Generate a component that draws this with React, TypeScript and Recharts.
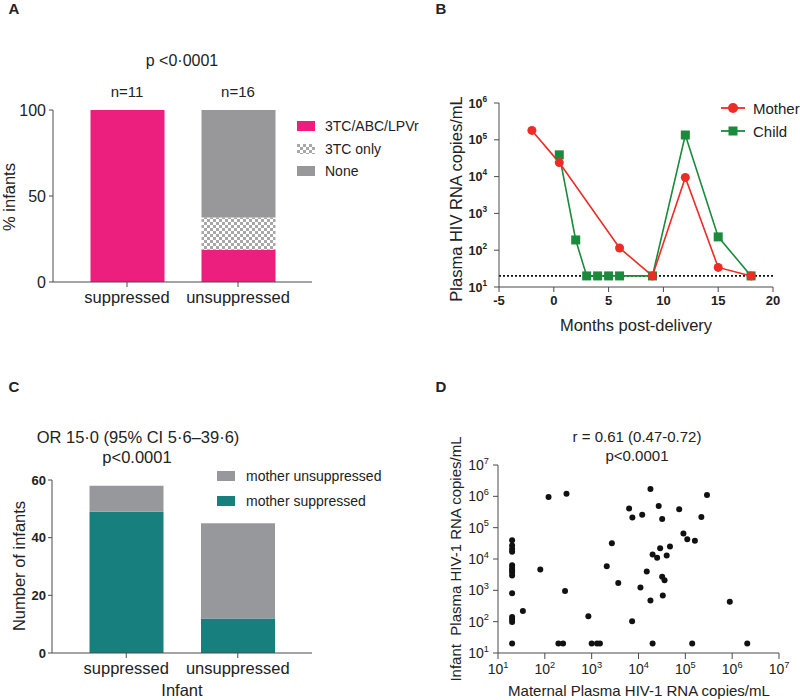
import React from "react";
import {
  BarChart,
  Bar,
  XAxis,
  YAxis,
  LineChart,
  Line,
  ScatterChart,
  Scatter,
  ReferenceLine,
} from "recharts";

const FONT = "'Liberation Sans', Arial, Helvetica, sans-serif";
const INK = "#222";
const AXIS = "#4a4a4a";

// ---- panel A: infant regimen by maternal status (% infants)
const groupsA = ["suppressed", "unsuppressed"];
const fullRegimen = [100, 18.75];
const only3tc = [0, 18.75];
const noRegimen = [0, 62.5];

// ---- panel B: one mother-child pair over time
const motherMonths = [-2, 0.5, 6, 9, 12, 15, 18];
const motherVL = [180000, 24000, 115, 20, 9500, 34, 20];
const childMonths = [0.5, 2, 3, 4, 5, 6, 9, 12, 15, 18];
const childVL = [39000, 190, 20, 20, 20, 20, 20, 135000, 230, 20];
const monthTicks = [-5, 0, 5, 10, 15, 20];
const logTicksB = [10, 100, 1000, 10000, 100000, 1000000];

// ---- panel C: infant status by maternal status (counts)
const infantGroups = ["suppressed", "unsuppressed"];
const motherSuppressed = [49, 12];
const motherUnsuppressed = [9, 33];

// ---- panel D: maternal vs infant viral load
const maternalVL = [
  20, 20, 20, 20, 20, 20, 20, 20, 20, 20, 20, 20, 20, 20,
  80, 34, 120, 290, 270, 195, 245, 850, 1000, 1300, 1500, 2100, 2700, 3700,
  6300, 7400, 7300, 12000, 11000, 15000, 18000, 18000, 20000, 20000, 25000,
  27000, 29000, 32000, 32000, 36000, 33000, 40000, 47000, 74000, 91000,
  110000, 160000, 140000, 220000, 290000, 890000, 2100000,
];
const infantVL = [
  40000, 27000, 21000, 17000, 6300, 5200, 4400, 3700, 3000, 800, 140, 117, 98, 20,
  4600, 220, 960000, 1200000, 950, 20, 20, 150, 20, 20, 20, 5900, 32000, 1700,
  410000, 210000, 103, 260000, 1230, 4000, 1700000, 470, 14000, 20, 11000,
  490000, 22000, 190000, 2700, 2100, 680, 13000, 25000, 390000, 65000,
  43000, 38000, 20, 220000, 1100000, 430, 20,
];
const logTicksD = [10, 100, 1000, 10000, 100000, 1000000, 10000000];

const PINK = "#EC1F7F";
const GREY_A = "#98989a";
const TEAL = "#17807e";
const GREY_C = "#96989c";
const RED = "#ee2b24";
const GREEN = "#1b8a3c";

const dataA = groupsA.map((g, i) => ({
  group: g,
  full: fullRegimen[i],
  only: only3tc[i],
  none: noRegimen[i],
}));
const dataC = infantGroups.map((g, i) => ({
  group: g,
  sup: motherSuppressed[i],
  unsup: motherUnsuppressed[i],
}));
const motherData = motherMonths.map((m, i) => ({ m, v: motherVL[i] }));
const childData = childMonths.map((m, i) => ({ m, v: childVL[i] }));
const scatterData = maternalVL.map((x, i) => ({ x, y: infantVL[i] }));

function Txt({ x, y, size = 16, bold = false, rot = false, left = false, children }: any) {
  return (
    <div
      style={{
        position: "absolute",
        left: x,
        top: y,
        transform: `translate(${left ? "0" : "-50%"}, -50%)${rot ? " rotate(-90deg)" : ""}`,
        fontFamily: FONT,
        fontSize: size,
        fontWeight: bold ? 700 : 400,
        color: INK,
        whiteSpace: "pre",
        lineHeight: 1,
      }}
    >
      {children}
    </div>
  );
}

function PowTick(props: any) {
  const { x, y, payload, vertical, size, bold } = props;
  const exp = Math.round(Math.log10(payload.value));
  const ty = vertical ? y + size * 0.36 : y + size * 0.85;
  return (
    <text
      x={x}
      y={ty}
      textAnchor={vertical ? "end" : "middle"}
      fill={INK}
      fontFamily={FONT}
      fontSize={size}
      fontWeight={bold ? 700 : 400}
    >
      <tspan>10</tspan>
      <tspan dy={-size * 0.45} fontSize={size * 0.66}>
        {exp}
      </tspan>
    </text>
  );
}

function Swatch({ x, y, fill, checker = false }: any) {
  return (
    <svg style={{ position: "absolute", left: x, top: y - 5 }} width={18} height={10}>
      <defs>
        <pattern id="chkLegend" width="6" height="6" patternUnits="userSpaceOnUse">
          <rect width="6" height="6" fill="#fff" />
          <rect width="3" height="3" fill="#a8a8a8" />
          <rect x="3" y="3" width="3" height="3" fill="#a8a8a8" />
        </pattern>
      </defs>
      <rect width={18} height={10} fill={checker ? "url(#chkLegend)" : fill} />
    </svg>
  );
}

const catTick = { fill: INK, fontSize: 16.5, fontFamily: FONT };
const boldTick = { fill: INK, fontSize: 13, fontFamily: FONT, fontWeight: 700 };

export default function App() {
  return (
    <div
      style={{
        position: "absolute",
        left: 0,
        top: 0,
        width: 800,
        height: 700,
        background: "#fff",
        overflow: "hidden",
      }}
    >
      {/* PANEL A */}
      <div style={{ position: "absolute", left: 0, top: 0 }}>
        <BarChart width={400} height={320} data={dataA} margin={{ top: 110, right: 88, bottom: 0, left: 0 }}>
          <defs>
            <pattern id="checker" width="6" height="6" patternUnits="userSpaceOnUse">
              <rect width="6" height="6" fill="#fff" />
              <rect width="3" height="3" fill="#a8a8a8" />
              <rect x="3" y="3" width="3" height="3" fill="#a8a8a8" />
            </pattern>
          </defs>
          <XAxis
            dataKey="group"
            height={38}
            padding={{ left: 18.5, right: 18.5 }}
            tickSize={5}
            tickMargin={4}
            stroke={AXIS}
            tick={catTick}
            interval={0}
          />
          <YAxis
            type="number"
            domain={[0, 100]}
            ticks={[0, 50, 100]}
            width={53}
            tickSize={4}
            tickMargin={3}
            stroke={AXIS}
            tick={{ fill: INK, fontSize: 16, fontFamily: FONT }}
            interval={0}
          />
          <Bar dataKey="full" stackId="a" fill={PINK} barSize={74} isAnimationActive={false} />
          <Bar dataKey="only" stackId="a" fill="url(#checker)" barSize={74} isAnimationActive={false} />
          <Bar dataKey="none" stackId="a" fill={GREY_A} barSize={74} isAnimationActive={false} />
        </BarChart>
      </div>

      {/* PANEL B */}
      <div style={{ position: "absolute", left: 400, top: 0 }}>
        <LineChart width={400} height={320} margin={{ top: 103, right: 27, bottom: 0, left: 0 }}>
          <XAxis
            type="number"
            dataKey="m"
            domain={[-5, 20]}
            ticks={monthTicks}
            height={33}
            tickSize={5}
            tickMargin={4}
            stroke={AXIS}
            tick={boldTick}
            interval={0}
            allowDuplicatedCategory={false}
          />
          <YAxis
            type="number"
            scale="log"
            domain={[10, 1000000]}
            ticks={logTicksB}
            allowDataOverflow
            width={99}
            tickSize={5}
            tickMargin={7}
            stroke={AXIS}
            interval={0}
            tick={(p: any) => <PowTick {...p} vertical size={12.5} bold />}
          />
          <ReferenceLine y={20} stroke="#111" strokeWidth={1.6} strokeDasharray="2 2" />
          <Line
            data={childData}
            dataKey="v"
            stroke={GREEN}
            strokeWidth={1.6}
            isAnimationActive={false}
            dot={(p: any) => (
              <rect key={`c${p.index}`} x={p.cx - 4.5} y={p.cy - 4.5} width={9} height={9} fill={GREEN} />
            )}
          />
          <Line
            data={motherData}
            dataKey="v"
            stroke={RED}
            strokeWidth={1.6}
            isAnimationActive={false}
            dot={{ r: 4.5, fill: RED, stroke: RED, strokeWidth: 0 }}
          />
        </LineChart>
      </div>

      {/* PANEL C */}
      <div style={{ position: "absolute", left: 0, top: 340 }}>
        <BarChart width={400} height={360} data={dataC} margin={{ top: 140, right: 88, bottom: 0, left: 0 }}>
          <XAxis
            dataKey="group"
            height={47}
            padding={{ left: 18.5, right: 18.5 }}
            tickSize={5}
            tickMargin={4}
            stroke={AXIS}
            tick={catTick}
            interval={0}
          />
          <YAxis
            type="number"
            domain={[0, 60]}
            ticks={[0, 20, 40, 60]}
            width={52}
            tickSize={4}
            tickMargin={2}
            stroke={AXIS}
            tick={boldTick}
            interval={0}
          />
          <Bar dataKey="sup" stackId="c" fill={TEAL} barSize={74} isAnimationActive={false} />
          <Bar dataKey="unsup" stackId="c" fill={GREY_C} barSize={74} isAnimationActive={false} />
        </BarChart>
      </div>

      {/* PANEL D */}
      <div style={{ position: "absolute", left: 400, top: 340 }}>
        <ScatterChart width={400} height={360} margin={{ top: 125, right: 21, bottom: 0, left: 0 }}>
          <XAxis
            type="number"
            dataKey="x"
            scale="log"
            domain={[10, 10000000]}
            ticks={logTicksD}
            allowDataOverflow
            height={47}
            tickSize={6}
            tickMargin={3}
            stroke={AXIS}
            interval={0}
            tick={(p: any) => <PowTick {...p} size={14} />}
          />
          <YAxis
            type="number"
            dataKey="y"
            scale="log"
            domain={[10, 10000000]}
            ticks={logTicksD}
            allowDataOverflow
            width={98}
            tickSize={5}
            tickMargin={4}
            stroke={AXIS}
            interval={0}
            tick={(p: any) => <PowTick {...p} vertical size={14} />}
          />
          <Scatter
            data={scatterData}
            isAnimationActive={false}
            shape={(p: any) => <circle cx={p.cx} cy={p.cy} r={3} fill="#111" />}
          />
        </ScatterChart>
      </div>

      {/* panel letters */}
      <Txt x={14} y={8} size={15} bold>A</Txt>
      <Txt x={441} y={8} size={15} bold>B</Txt>
      <Txt x={14} y={386} size={15} bold>C</Txt>
      <Txt x={441} y={386} size={15} bold>D</Txt>

      {/* A texts */}
      <Txt x={182} y={61} size={16}>p {"<"}0·0001</Txt>
      <Txt x={127} y={91} size={15}>n=11</Txt>
      <Txt x={238} y={91} size={15}>n=16</Txt>
      <Txt x={9} y={197} size={16.5} rot>% infants</Txt>
      <Swatch x={297} y={126} fill={PINK} />
      <Swatch x={297} y={149} checker />
      <Swatch x={297} y={171} fill={GREY_A} />
      <Txt x={325} y={126} size={14} left>3TC/ABC/LPVr</Txt>
      <Txt x={325} y={149} size={14} left>3TC only</Txt>
      <Txt x={325} y={171} size={14} left>None</Txt>

      {/* B texts */}
      <Txt x={456} y={199} size={16.5} rot>Plasma HIV RNA copies/mL</Txt>
      <Txt x={636} y={325} size={16.5}>Months post-delivery</Txt>
      <svg style={{ position: "absolute", left: 721, top: 100 }} width={24} height={16}>
        <line x1={0} y1={8} x2={24} y2={8} stroke={RED} strokeWidth={1.8} />
        <circle cx={12} cy={8} r={5} fill={RED} />
      </svg>
      <svg style={{ position: "absolute", left: 721, top: 123 }} width={24} height={16}>
        <line x1={0} y1={8} x2={24} y2={8} stroke={GREEN} strokeWidth={1.8} />
        <rect x={7.5} y={3.5} width={9} height={9} fill={GREEN} />
      </svg>
      <Txt x={753} y={108} size={15} left>Mother</Txt>
      <Txt x={753} y={131} size={15} left>Child</Txt>

      {/* C texts */}
      <Txt x={138} y={437} size={16.5}>OR 15·0 (95% CI 5·6–39·6)</Txt>
      <Txt x={137} y={457} size={16.5}>p{"<"}0.0001</Txt>
      <Txt x={19} y={566} size={16.5} rot>Number of infants</Txt>
      <Txt x={182} y={690} size={16.5}>Infant</Txt>
      <Swatch x={217} y={476} fill={GREY_C} />
      <Swatch x={217} y={501} fill={TEAL} />
      <Txt x={246} y={476} size={14} left>mother unsuppressed</Txt>
      <Txt x={246} y={501} size={14} left>mother suppressed</Txt>

      {/* D texts */}
      <Txt x={637} y={436} size={15}>r = 0.61 (0.47-0.72)</Txt>
      <Txt x={637} y={455} size={15}>p{"<"}0.0001</Txt>
      <Txt x={455} y={559} size={15} rot>Infant  Plasma HIV-1 RNA copies/mL</Txt>
      <Txt x={639} y={690} size={15}>Maternal Plasma HIV-1 RNA copies/mL</Txt>
    </div>
  );
}
